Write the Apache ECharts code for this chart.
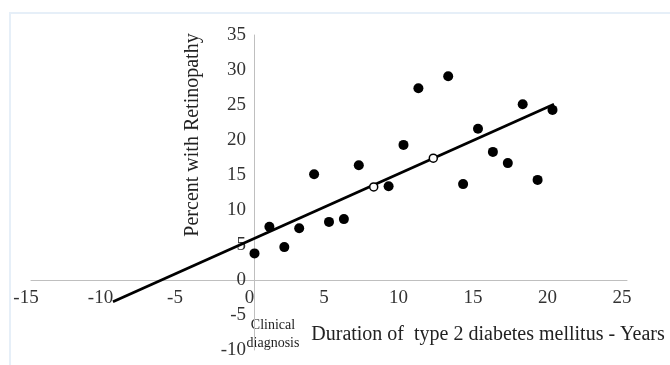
<!DOCTYPE html>
<html>
<head>
<meta charset="utf-8">
<script src="https://cdn.jsdelivr.net/npm/echarts@6/dist/echarts.min.js"></script>
<style>
  html, body { margin: 0; padding: 0; background: #fff; }
  #chart { width: 670px; height: 365px; }
</style>
</head>
<body>
<div id="chart"></div>
<script>
// years since clinical diagnosis / percent with retinopathy
const durationYears = [0, 1, 2, 3, 4, 5, 6, 7, 9, 10, 11, 13, 14, 15, 16, 17, 18, 19, 20]
const retinopathyPct = [3.8, 7.6, 4.7, 7.4, 15.1, 8.3, 8.7, 16.4, 13.4, 19.3, 27.4, 29.1, 13.7, 21.6, 18.3, 16.7, 25.1, 14.3, 24.3]
// the two points that sit on the trend line (drawn hollow)
const hollowYears = [8, 12]
const hollowPct = [13.3, 17.4]
// linear trend line, extended back before diagnosis
const trendYears = [-9.5, 20.1]
const trendPct = [-3.1, 25.1]

const serif = '"Liberation Serif", "DejaVu Serif", serif'
const chart = echarts.init(document.getElementById('chart'))

// grid spans x -15..25 over 31..627 and y -10..35 over 350..35,
// so the axes crossing at zero sit 223px from the left and 70px above the bottom
chart.setOption({
  animation: false,
  grid: { left: 31, right: 43, top: 35, bottom: 15, outerBoundsMode: 'none' },
  xAxis: {
    type: 'value',
    min: -15,
    max: 25,
    interval: 5,
    position: 'bottom',
    offset: -70,
    axisLine: { onZero: false, lineStyle: { color: '#bfbfbf', width: 1 } },
    axisTick: { show: false },
    splitLine: { show: false },
    axisLabel: { color: '#333', fontFamily: serif, fontSize: 19, margin: 9, padding: [0, 10, 0, 0] }
  },
  yAxis: {
    type: 'value',
    min: -10,
    max: 35,
    interval: 5,
    position: 'left',
    offset: -223,
    axisLine: { onZero: false, lineStyle: { color: '#bfbfbf', width: 1 } },
    axisTick: { show: false },
    splitLine: { show: false },
    axisLabel: { color: '#333', fontFamily: serif, fontSize: 19, margin: 8 }
  },
  graphic: [
    {
      type: 'rect', silent: true, z: -1,
      shape: { x: 10, y: 13, width: 700, height: 400 },
      style: { fill: 'none', stroke: '#e6eff8', lineWidth: 2 }
    },
    {
      type: 'text', x: 193, y: 135, rotation: Math.PI / 2,
      style: { text: 'Percent with Retinopathy', font: '20px ' + serif, fill: '#222', align: 'center', verticalAlign: 'middle' }
    },
    {
      type: 'text', x: 488, y: 335,
      style: { text: 'Duration of  type 2 diabetes mellitus - Years', font: '20px ' + serif, fill: '#222', align: 'center', verticalAlign: 'middle' }
    },
    {
      type: 'text', x: 273, y: 334,
      style: { text: 'Clinical\ndiagnosis', font: '14px ' + serif, lineHeight: 18, fill: '#222', align: 'center', verticalAlign: 'middle' }
    }
  ],
  series: [
    {
      type: 'line',
      data: trendYears.map((x, i) => [x, trendPct[i]]),
      showSymbol: false,
      lineStyle: { color: '#000', width: 2.8 },
      z: 2
    },
    {
      type: 'scatter',
      data: durationYears.map((x, i) => [x, retinopathyPct[i]]),
      symbolSize: 10,
      itemStyle: { color: '#000', opacity: 1 },
      z: 3
    },
    {
      type: 'scatter',
      data: hollowYears.map((x, i) => [x, hollowPct[i]]),
      symbolSize: 8,
      itemStyle: { color: '#fff', borderColor: '#000', borderWidth: 1.5, opacity: 1 },
      z: 3
    }
  ]
})
</script>
</body>
</html>
